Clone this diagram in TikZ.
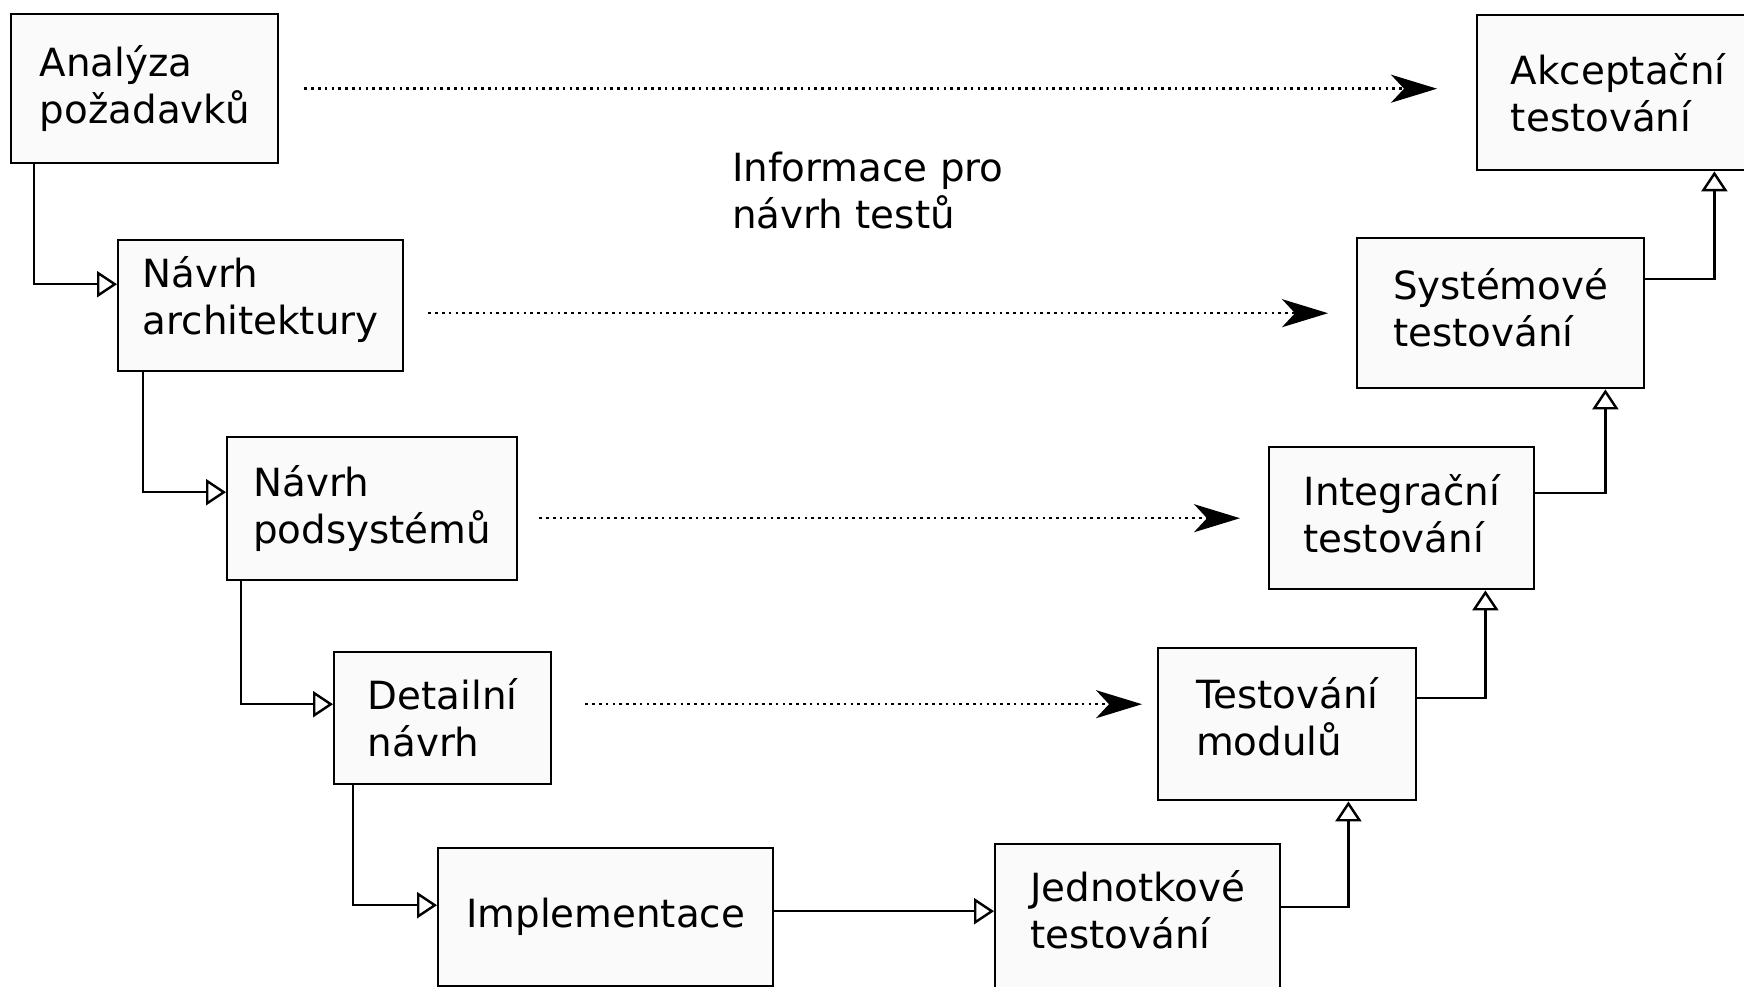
\documentclass[tikz,border=0pt]{standalone}
\usepackage{fontspec}
\setmainfont{DejaVu Sans}
\usetikzlibrary{arrows.meta}

\begin{document}
\begin{tikzpicture}[x=1pt,y=-1pt,
  box/.style={draw, line width=2.4pt, fill=black!2, anchor=north west, inner sep=0pt,
    align=left, font=\fontsize{38.8pt}{47pt}\selectfont},
  flow/.style={line width=2.4pt, -{Triangle[open, length=20pt, width=26pt]}},
  info/.style={line width=2.5pt, dash pattern=on 2.5pt off 4.3pt,
    -{Stealth[length=46pt, width=28pt, inset=13pt]}}]
\useasboundingbox (0,0) rectangle (1744,987);
% left branch
\node[box, minimum width=267, minimum height=149] (ana) at (10,13) {Analýza\\požadavků};
\node[box, minimum width=285, minimum height=131, text depth=21pt] (arch) at (117,239) {Návrh\\architektury};
\node[box, minimum width=290, minimum height=143] (podsys) at (226,436) {Návrh\\podsystémů};
\node[box, minimum width=217, minimum height=132] (detail) at (333,651) {Detailní\\návrh};
\node[box, minimum width=335, minimum height=138] (impl) at (437,847) {Implementace};
% right branch
\node[box, minimum width=285, minimum height=152, text depth=22pt] (jedn) at (994,843) {Jednotkové\\testování};
\node[box, minimum width=258, minimum height=152, text depth=16pt] (moduly) at (1157,647) {Testování\\modulů};
\node[box, minimum width=265, minimum height=142, text depth=9pt] (integr) at (1268,446) {Integrační\\testování};
\node[box, minimum width=287, minimum height=150, text depth=12pt] (system) at (1356,237) {Systémové\\testování};
\node[box, minimum width=282, minimum height=155] (akcept) at (1476,14) {Akceptační\\testování};
\node[anchor=west, inner sep=0pt, align=left, font=\fontsize{38.8pt}{47pt}\selectfont]
  (infotext) at (732,191) {Informace pro\\návrh testů};
% down the V
\draw[flow] ([xshift=24pt]ana.south west) |- ([yshift=21.5pt]arch.west);
\draw[flow] ([xshift=26pt]arch.south west) |- ([yshift=16.5pt]podsys.west);
\draw[flow] ([xshift=15pt]podsys.south west) |- ([yshift=14pt]detail.west);
\draw[flow] ([xshift=20pt]detail.south west) |- ([yshift=12pt]impl.west);
\draw[flow] ([yshift=6pt]impl.east) -- ([yshift=6pt]jedn.west |- impl.east);
% up the V
\draw[flow] ([yshift=13pt]jedn.east) -| ([xshift=-69pt]moduly.south east);
\draw[flow] ([yshift=26pt]moduly.east) -| ([xshift=-50pt]integr.south east);
\draw[flow] ([yshift=25pt]integr.east) -| ([xshift=-40pt]system.south east);
\draw[flow] ([yshift=34pt]system.east) -| ([xshift=-46pt]akcept.south east);
% test design info
\draw[info] ([xshift=25pt]ana.east) -- ([xshift=-39pt]akcept.west |- ana.east);
\draw[info] ([xshift=24pt]arch.east |- system.west) -- ([xshift=-28pt]system.west);
\draw[info] ([xshift=21pt]podsys.east |- integr.west) -- ([xshift=-28pt]integr.west);
\draw[info] ([xshift=33pt,yshift=14pt]detail.east) -- ([xshift=-15pt,yshift=14pt]moduly.west |- detail.east);
\end{tikzpicture}
\end{document}
